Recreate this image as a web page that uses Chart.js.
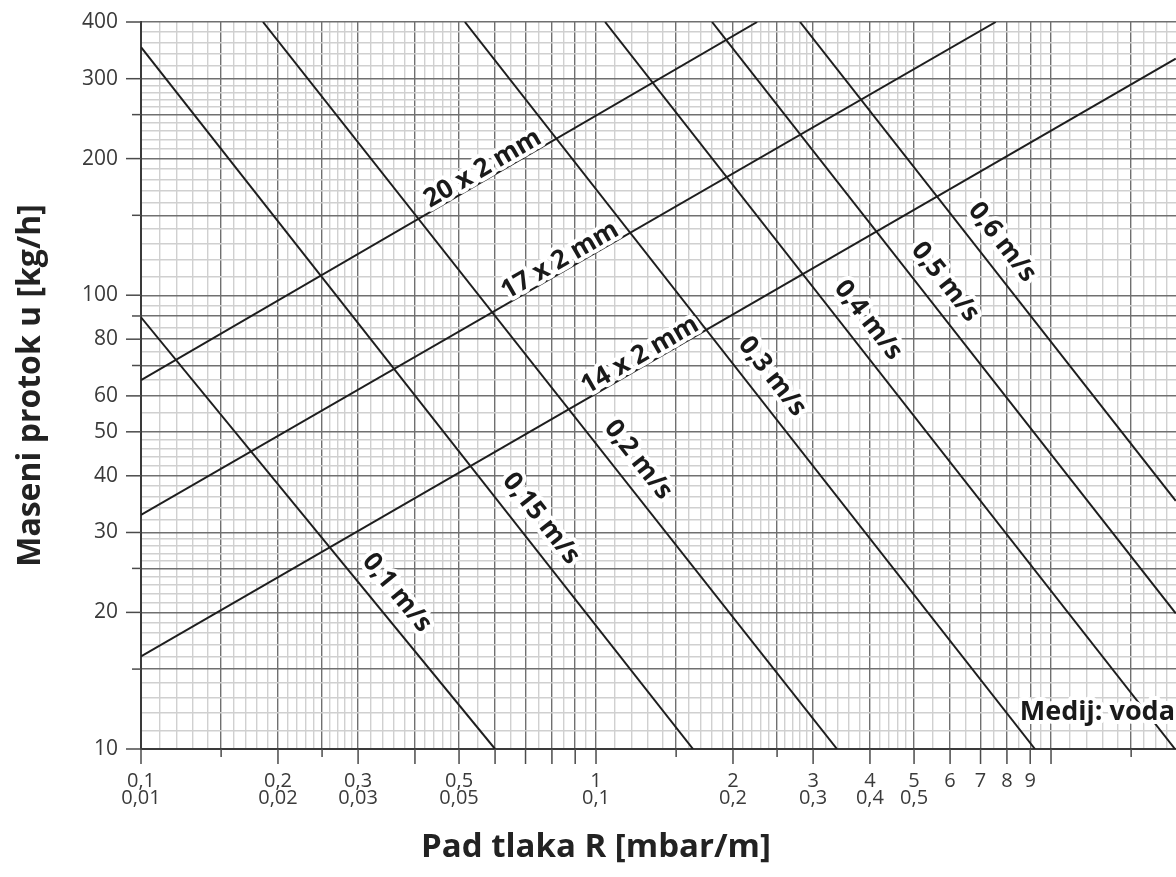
<!DOCTYPE html>
<html><head><meta charset="utf-8">
<script src="https://cdn.jsdelivr.net/npm/chart.js@4.4.0/dist/chart.umd.min.js"></script>
<style>html,body{margin:0;padding:0;background:#fff;overflow:hidden;} #wrap{width:1200px;height:877px;position:relative;}</style>
</head><body><div id="wrap"><canvas id="c"></canvas></div>
<script>
// ---- data ----
const pipeNames  = ['20 x 2 mm', '17 x 2 mm', '14 x 2 mm'];
const pipeStartR = [0.1, 0.1, 0.1];
const pipeStartQ = [65.0, 32.8, 16.0];
const pipeEndR   = [2.26, 7.56, 18.8];
const pipeEndQ   = [400, 400, 332];

const velNames  = ['0,1 m/s', '0,15 m/s', '0,2 m/s', '0,3 m/s', '0,4 m/s', '0,5 m/s', '0,6 m/s'];
const velStartR = [0.1, 0.1, 0.1854, 0.515, 1.047, 1.799, 2.808];
const velStartQ = [89.4, 352, 400, 400, 400, 400, 400];
const velEndR   = [0.60, 1.634, 3.386, 9.22, 18.73, 18.8, 18.8];
const velEndQ   = [10, 10, 10, 10, 10, 19.9, 35.2];

const xTickValues = [0.1, 0.2, 0.3, 0.5, 1, 2, 3, 4, 5, 6, 7, 8, 9];
const xTickRow1   = ['0,1', '0,2', '0,3', '0,5', '1', '2', '3', '4', '5', '6', '7', '8', '9'];
const xTickRow2   = ['0,01', '0,02', '0,03', '0,05', '0,1', '0,2', '0,3', '0,4', '0,5', '', '', '', ''];
const xMajorLong  = [0.4, 0.6, 0.7, 0.8, 0.9, 10];
const xMajorShort = [0.15, 0.25, 1.5, 2.5, 15];

const yTickValues = [10, 20, 30, 40, 50, 60, 80, 100, 200, 300, 400];
const yTickLabels = ['10', '20', '30', '40', '50', '60', '80', '100', '200', '300', '400'];
const yMajorShort = [15, 25, 70, 90, 150, 250];

// label anchors (along the lines, in R units)
const pipeLabelR = [0.580, 0.857, 1.285];
const velLabelR  = [0.3335, 0.691, 1.129, 2.225, 3.616, 5.34, 7.12];
const noteText = 'Medij: voda';
const noteR = 8.54, noteQ = 11.6;
const xTitle = 'Pad tlaka R [mbar/m]';
const yTitle = 'Maseni protok u [kg/h]';

// ---- grid helpers ----
function near(a, b) { return Math.abs(a - b) < 1e-9 * Math.max(1, Math.abs(b)); }
function minorGrid(decades, min, max) {
  const out = [];
  decades.forEach(d => {
    for (let m = 1; m < 3 - 1e-9; m += 0.1) out.push(m * d);
    for (let m = 3; m < 5 - 1e-9; m += 0.2) out.push(m * d);
    for (let m = 5; m < 10 - 1e-9; m += 0.5) out.push(m * d);
  });
  return out.map(v => Math.round(v * 1e6) / 1e6).filter(v => v >= min - 1e-9 && v <= max + 1e-9);
}
const xDark = xTickValues.concat(xMajorLong, xMajorShort);
const yDark = yTickValues.concat(yMajorShort);
function mergeTicks(minor, dark) {
  const all = minor.slice();
  dark.forEach(v => { if (!all.some(a => near(a, v))) all.push(v); });
  all.sort((a, b) => a - b);
  return all;
}
const xGrid = mergeTicks(minorGrid([0.1, 1, 10], 0.1, 20), xDark);
const yGrid = mergeTicks(minorGrid([10, 100], 10, 400), yDark);
const isDark = (list, v) => list.some(d => near(d, v));

const datasets = [];
pipeNames.forEach((n, i) => datasets.push({
  label: n, data: [{x: pipeStartR[i], y: pipeStartQ[i]}, {x: pipeEndR[i], y: pipeEndQ[i]}],
  borderColor: '#1e1e1e', borderWidth: 2, pointRadius: 0, tension: 0
}));
velNames.forEach((n, i) => datasets.push({
  label: n, data: [{x: velStartR[i], y: velStartQ[i]}, {x: velEndR[i], y: velEndQ[i]}],
  borderColor: '#1e1e1e', borderWidth: 2, pointRadius: 0, tension: 0
}));

function haloText(ctx, text, x, y) {
  ctx.lineJoin = 'round';
  ctx.strokeStyle = '#ffffff';
  ctx.lineWidth = 8;
  ctx.strokeText(text, x, y);
  ctx.fillStyle = '#1a1a1a';
  ctx.fillText(text, x, y);
}

function lineLabel(ctx, xs, ys, r0, q0, r1, q1, rAt, text, d) {
  const p0x = xs.getPixelForValue(r0), p0y = ys.getPixelForValue(q0);
  const p1x = xs.getPixelForValue(r1), p1y = ys.getPixelForValue(q1);
  const a = Math.atan2(p1y - p0y, p1x - p0x);
  const px = xs.getPixelForValue(rAt);
  const t = (px - p0x) / (p1x - p0x);
  const py = p0y + t * (p1y - p0y);
  const cx = px + d * Math.sin(a), cy = py - d * Math.cos(a);
  ctx.save();
  ctx.translate(cx, cy);
  ctx.rotate(a);
  ctx.textAlign = 'center';
  ctx.textBaseline = 'middle';
  haloText(ctx, text, 0, 0);
  ctx.restore();
}

const deco = {
  id: 'deco',
  afterDatasetsDraw(chart) {
    const {ctx, scales: {x, y}} = chart;
    ctx.save();
    ctx.font = 'bold 26px "Open Sans"';
    pipeNames.forEach((n, i) => lineLabel(ctx, x, y, pipeStartR[i], pipeStartQ[i], pipeEndR[i], pipeEndQ[i], pipeLabelR[i], n, 11));
    velNames.forEach((n, i) => lineLabel(ctx, x, y, velStartR[i], velStartQ[i], velEndR[i], velEndQ[i], velLabelR[i], n, 23));
    ctx.font = 'bold 27px "Open Sans"';
    ctx.textAlign = 'left';
    ctx.textBaseline = 'alphabetic';
    haloText(ctx, noteText, x.getPixelForValue(noteR), y.getPixelForValue(noteQ));
    ctx.restore();
  },
  afterDraw(chart) {
    const {ctx, chartArea: ca, scales: {x, y}} = chart;
    ctx.save();
    ctx.strokeStyle = '#4a4a4a';
    ctx.lineWidth = 1.5;
    const seg = (a, b, c, d) => { ctx.beginPath(); ctx.moveTo(a, b); ctx.lineTo(c, d); ctx.stroke(); };
    xTickValues.concat(xMajorLong).forEach(v => { const p = x.getPixelForValue(v); seg(p, ca.bottom, p, ca.bottom + 15); });
    xMajorShort.forEach(v => { const p = x.getPixelForValue(v); seg(p, ca.bottom, p, ca.bottom + 8); });
    yTickValues.forEach(v => { const p = y.getPixelForValue(v); seg(ca.left - 15, p, ca.left, p); });
    yMajorShort.forEach(v => { const p = y.getPixelForValue(v); seg(ca.left - 9, p, ca.left, p); });
    ctx.font = 'bold 33px "Open Sans"';
    ctx.fillStyle = '#222';
    ctx.textAlign = 'center';
    ctx.textBaseline = 'alphabetic';
    ctx.fillText(xTitle, x.getPixelForValue(1), ca.bottom + 108);
    ctx.restore();
  }
};

new Chart(document.getElementById('c'), {
  type: 'line',
  data: {datasets},
  plugins: [deco],
  options: {
    responsive: true, maintainAspectRatio: false, animation: false, events: [],
    layout: {padding: {top: 22, right: 12, bottom: 0, left: 0}},
    plugins: {legend: {display: false}, tooltip: {enabled: false}},
    scales: {
      x: {
        type: 'logarithmic', min: 0.1, max: 20, bounds: 'data',
        afterBuildTicks: s => { s.ticks = xGrid.map(v => ({value: v})); },
        afterFit: s => { s.height = 128; s.paddingLeft = 0; s.paddingRight = 0; },
        grid: {
          drawTicks: false,
          color: c => isDark(xDark, c.tick.value) ? '#707070' : '#d0d0d0',
          lineWidth: 1.4
        },
        border: {display: true, color: '#3a3a3a', width: 2},
        ticks: {
          autoSkip: false, maxRotation: 0, minRotation: 0, padding: 24, color: '#3a3a3a',
          font: {family: 'Open Sans', size: 20, lineHeight: '17px'},
          callback: (v) => {
            const i = xTickValues.findIndex(t => near(t, v));
            if (i < 0) return '';
            return xTickRow2[i] ? [xTickRow1[i], xTickRow2[i]] : xTickRow1[i];
          }
        }
      },
      y: {
        type: 'logarithmic', min: 10, max: 400, bounds: 'data',
        afterBuildTicks: s => { s.ticks = yGrid.map(v => ({value: v})); },
        afterFit: s => { s.width = 141; s.paddingTop = 0; s.paddingBottom = 0; },
        grid: {
          drawTicks: false,
          color: c => isDark(yDark, c.tick.value) ? '#707070' : '#d0d0d0',
          lineWidth: 1.4
        },
        border: {display: true, color: '#3a3a3a', width: 2},
        title: {
          display: true, text: yTitle, color: '#222',
          font: {family: 'Open Sans', size: 32, weight: 'bold'},
          padding: {top: 12, bottom: 0}
        },
        ticks: {
          autoSkip: false, padding: 23, color: '#3a3a3a',
          font: {family: 'Open Sans', size: 21},
          callback: (v) => {
            const i = yTickValues.findIndex(t => near(t, v));
            return i < 0 ? '' : yTickLabels[i];
          }
        }
      }
    }
  }
});
</script></body></html>
